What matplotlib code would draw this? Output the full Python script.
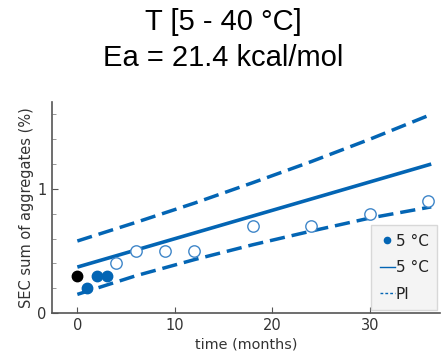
import matplotlib
matplotlib.use("Agg")
import matplotlib.pyplot as plt
from matplotlib.lines import Line2D
import numpy as np

# data
t_ref = [0]
y_ref = [0.30]
t_filled = [1, 2, 3]
y_filled = [0.20, 0.30, 0.30]
t_open = [4, 6, 9, 12, 18, 24, 30, 36]
y_open = [0.40, 0.50, 0.50, 0.50, 0.70, 0.70, 0.80, 0.90]
t_fit = [0, 36.3]
y_fit = [0.37, 1.20]
t_pi = [0, 6, 12, 18, 24, 30, 36.3]
y_pi_upper = [0.58, 0.73, 0.885, 1.05, 1.22, 1.40, 1.60]
y_pi_lower = [0.15, 0.30, 0.43, 0.55, 0.66, 0.765, 0.855]
title_lines = ["T [5 - 40 °C]", "Ea = 21.4 kcal/mol"]
xticks = [0, 10, 20, 30]
legend_labels = ["5 °C", "5 °C", "PI"]

blue = "#0365b4"
open_blue = "#3f86c9"

fig = plt.figure(figsize=(4.46, 3.56), dpi=100)
ax = fig.add_axes([52/446, 1-313/356, (440-52)/446, (313-102)/356])

ax.plot(t_pi, y_pi_upper, color=blue, lw=2.5, ls=(0, (4.4, 2.0)), dash_capstyle="butt")
ax.plot(t_pi, y_pi_lower, color=blue, lw=2.5, ls=(0, (4.4, 2.0)), dash_capstyle="butt")
ax.plot(t_fit, y_fit, color=blue, lw=2.6, solid_capstyle="butt")
ax.plot(t_open, y_open, "o", ms=8.2, mfc="white", mec=open_blue, mew=1.0, zorder=5)
ax.plot(t_filled, y_filled, "o", ms=7.5, color=blue, mec=blue, zorder=5)
ax.plot(t_ref, y_ref, "o", ms=7.5, color="black", zorder=5)

ax.set_xlim(-2.6, 37.2)
ax.set_ylim(0, 1.7)
ax.spines["top"].set_visible(False)
ax.spines["right"].set_visible(False)
for s in ("left", "bottom"):
    ax.spines[s].set_color("#555555")
    ax.spines[s].set_linewidth(1.2)
ax.set_xticks(xticks)
ax.set_yticks([0, 1])
ax.set_yticks(np.arange(0.2, 1.7, 0.2), minor=True)
ax.tick_params(direction="in", length=4, color="#555555", labelsize=10.5, labelcolor="#333333")
ax.tick_params(which="minor", direction="in", length=3, color="#888888")
ax.tick_params(axis="y", pad=4)
ax.set_xlabel("time (months)", fontsize=10.4, color="#333333", labelpad=3)
ax.set_ylabel("SEC sum of aggregates (%)", fontsize=10.5, color="#333333", labelpad=2)

fig.text(0.5, 1-22.5/356, title_lines[0], ha="center", va="center", fontsize=21, family="Liberation Sans")
fig.text(0.5, 1-58/356, title_lines[1], ha="center", va="center", fontsize=21, family="Liberation Sans")

handles = [
    Line2D([], [], ls="none", marker="o", ms=4.5, color=blue),
    Line2D([], [], color=blue, lw=1.0),
    Line2D([], [], color=blue, lw=1.0, ls=(0, (2, 1.5))),
]
leg = ax.legend(handles, legend_labels, loc="lower right", bbox_to_anchor=(1.0, 0.0),
                fontsize=11, handlelength=1.0, handletextpad=0.05, borderpad=0.55,
                labelspacing=0.75, borderaxespad=0.2, frameon=True, fancybox=False, framealpha=1)
leg.get_frame().set_facecolor("#f4f4f4")
leg.get_frame().set_edgecolor("#d8d8d8")
for txt in leg.get_texts():
    txt.set_color("#222222")

fig.savefig("out.png", dpi=100)
